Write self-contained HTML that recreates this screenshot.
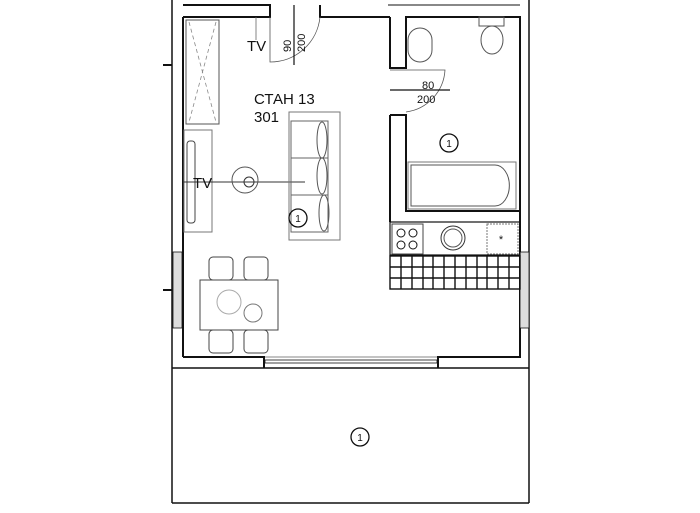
<!DOCTYPE html>
<html><head><meta charset="utf-8"><style>
body{margin:0;background:#fff}
svg{display:block}
text{font-family:"Liberation Sans",sans-serif;fill:#111}
</style></head><body>
<svg width="700" height="513" viewBox="0 0 700 513" xmlns="http://www.w3.org/2000/svg">
<g fill="none" stroke="#111">
<!-- outer lines -->
<line x1="172" y1="0" x2="172" y2="503" stroke-width="1.5"/>
<line x1="529" y1="0" x2="529" y2="503" stroke-width="1.5"/>
<line x1="172" y1="503" x2="529" y2="503" stroke-width="1.5"/>
<line x1="172" y1="368" x2="529" y2="368" stroke-width="1.5"/>
<!-- top wall -->
<polyline points="183,5 270,5 270,17 183,17" stroke-width="2"/>
<polyline points="320,5 320,17 390,17" stroke-width="2"/>
<line x1="388" y1="5" x2="520" y2="5" stroke-width="1"/>
<!-- left wall inner -->
<line x1="183" y1="17" x2="183" y2="357" stroke-width="2"/>
<line x1="163" y1="65" x2="172" y2="65" stroke-width="2"/>
<line x1="163" y1="290" x2="172" y2="290" stroke-width="2"/>
<!-- bottom wall -->
<polyline points="183,357 264,357 264,368" stroke-width="2"/>
<polyline points="438,368 438,357 520,357 520,17 406,17 406,68 390,68 390,17" stroke-width="2"/>
<polyline points="390,115 406,115 406,211 520,211" stroke-width="2"/>
<line x1="390" y1="115" x2="390" y2="222" stroke-width="2"/>
<!-- sliding door -->
<rect x="265" y="360" width="172" height="3" stroke-width="0.8"/>
<line x1="265" y1="357" x2="438" y2="357" stroke-width="0.6"/>
<!-- windows -->
<rect x="173" y="252" width="9" height="76" stroke-width="0.8" fill="#ddd"/>
<rect x="520" y="252" width="9" height="76" stroke-width="0.8" fill="#ddd"/>
<!-- entry door -->
<path d="M270,17 L270,62 A50,50 0 0 0 320,17" stroke-width="0.8" stroke="#555"/>
<line x1="294" y1="5" x2="294" y2="65" stroke-width="1.2"/>
<!-- bathroom door -->
<path d="M390,70 L445,70 A45,45 0 0 1 406,112" stroke-width="0.8" stroke="#555"/>
<line x1="390" y1="90" x2="450" y2="90" stroke-width="1.2"/>
<!-- wardrobe -->
<rect x="186" y="20" width="33" height="104" stroke="#555" stroke-width="1"/>
<path d="M189,22 L216,122 M216,22 L189,122" stroke="#888" stroke-dasharray="4,3" stroke-width="0.8"/>
<line x1="256" y1="17" x2="256" y2="40" stroke="#666" stroke-width="0.8"/>
<!-- tv unit -->
<rect x="184" y="130" width="28" height="102" stroke="#777"/>
<rect x="187" y="141" width="8" height="82" rx="3" stroke="#444"/>
<line x1="183" y1="182" x2="305" y2="182" stroke="#333"/>
<circle cx="245" cy="180" r="13" stroke="#555"/>
<circle cx="249" cy="182" r="5" stroke="#333"/>
<!-- sofa -->
<rect x="289" y="112" width="51" height="128" stroke="#777"/>
<rect x="291" y="121" width="37" height="37" stroke="#666"/>
<rect x="291" y="158" width="37" height="37" stroke="#666"/>
<rect x="291" y="195" width="37" height="37" stroke="#666"/>
<ellipse cx="322" cy="140" rx="5" ry="18" stroke="#555"/>
<ellipse cx="322" cy="176" rx="5" ry="18" stroke="#555"/>
<ellipse cx="324" cy="213" rx="5" ry="18" stroke="#555"/>
<!-- bathroom fixtures -->
<rect x="408" y="28" width="24" height="34" rx="12" stroke="#555"/>
<rect x="479" y="17" width="25" height="9" stroke="#555"/>
<ellipse cx="492" cy="40" rx="11" ry="14" stroke="#555"/>
<rect x="408" y="162" width="108" height="47" stroke="#777"/>
<path d="M411,165 L495,165 A14,20 0 0 1 495,206 L411,206 Z" stroke="#555"/>
<!-- kitchen -->
<rect x="390" y="222" width="130" height="33" stroke-width="1.2"/>
<rect x="392" y="224" width="31" height="30" stroke="#444"/>
<circle cx="401" cy="233" r="4"/><circle cx="413" cy="233" r="4"/>
<circle cx="401" cy="245" r="4"/><circle cx="413" cy="245" r="4"/>
<circle cx="453" cy="238" r="12" stroke="#333"/>
<circle cx="453" cy="238" r="9" stroke="#555"/>
<rect x="487" y="224" width="31" height="30" stroke="#777" stroke-dasharray="2,1"/>
<!-- dining -->
<rect x="200" y="280" width="78" height="50" stroke="#444"/>
<rect x="209" y="257" width="24" height="23" rx="4" stroke="#444"/>
<rect x="244" y="257" width="24" height="23" rx="4" stroke="#444"/>
<rect x="209" y="330" width="24" height="23" rx="4" stroke="#444"/>
<rect x="244" y="330" width="24" height="23" rx="4" stroke="#444"/>
<circle cx="229" cy="302" r="12" stroke="#aaa"/>
<circle cx="253" cy="313" r="9" stroke="#777"/>
<!-- number circles -->
<circle cx="298" cy="218" r="9" stroke-width="1.3"/>
<circle cx="449" cy="143" r="9" stroke-width="1.3"/>
<circle cx="360" cy="437" r="9" stroke-width="1.3"/>
</g>
<!-- tiles -->
<g stroke="#111" stroke-width="1.4" fill="none">
<rect x="390" y="256" width="130" height="33"/>
<path d="M390,267 H520 M390,278 H520 M401,256 V289 M412,256 V289 M423,256 V289 M433,256 V289 M444,256 V289 M455,256 V289 M466,256 V289 M477,256 V289 M487,256 V289 M498,256 V289 M509,256 V289"/>
</g>
<text x="247" y="51" font-size="15">TV</text>
<text x="193" y="188" font-size="15">TV</text>
<text x="254" y="104" font-size="15">СТАН 13</text>
<text x="254" y="122" font-size="15">301</text>
<text transform="translate(291,52) rotate(-90)" font-size="11">90</text>
<text transform="translate(305,52) rotate(-90)" font-size="11">200</text>
<text x="422" y="89" font-size="11">80</text>
<text x="417" y="103" font-size="11">200</text>
<text x="298" y="222" font-size="10" text-anchor="middle">1</text>
<text x="449" y="147" font-size="10" text-anchor="middle">1</text>
<text x="360" y="441" font-size="10" text-anchor="middle">1</text>
<text x="501" y="243" font-size="11" text-anchor="middle">*</text>
</svg>
</body></html>
